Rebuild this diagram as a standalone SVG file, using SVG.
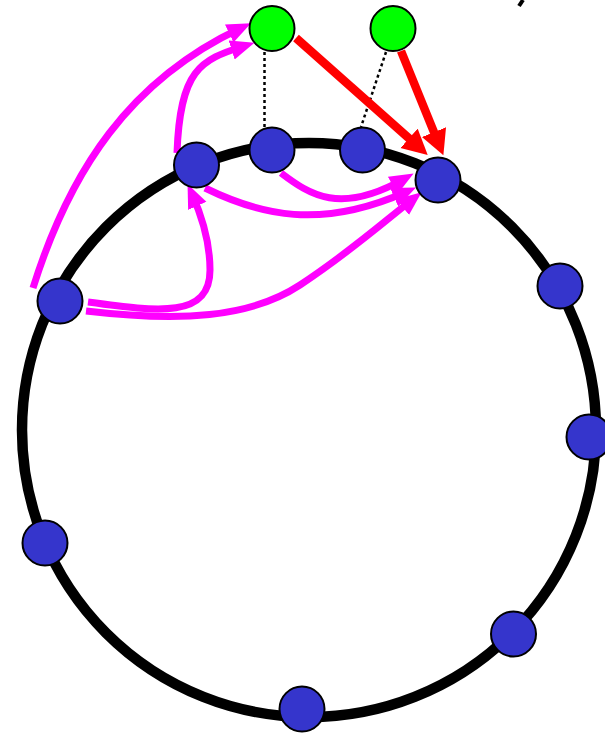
<svg xmlns="http://www.w3.org/2000/svg" width="605" height="734" viewBox="0 0 605 734">
<style>
.ring{fill:none;stroke:#000;stroke-width:10.5}
.peer{fill:#3535cc;stroke:#000;stroke-width:2}
.green{fill:#00ff00;stroke:#000;stroke-width:2}
.dot{stroke:#000;stroke-width:2.5;stroke-dasharray:3 3;fill:none}
.red{stroke:#ff0000;stroke-width:8.5;fill:none;marker-end:url(#ra)}
.mag{stroke:#ff00ff;stroke-width:7;fill:none;marker-end:url(#ma)}
</style>
<defs>
<marker id="ra" markerUnits="userSpaceOnUse" markerWidth="28" markerHeight="28" refX="16" refY="13" orient="auto">
<path d="M0,0 L25,13 L0,26 z" fill="#ff0000"/>
</marker>
<marker id="ma" markerUnits="userSpaceOnUse" markerWidth="26" markerHeight="22" refX="13" refY="10" orient="auto">
<path d="M0,0 L24,10 L0,20 z" fill="#ff00ff"/>
</marker>
</defs>
<g id="ring"><circle class="ring" cx="309" cy="430" r="287"/></g>
<g id="connectors">
<line class="dot" x1="264.5" y1="52" x2="264.5" y2="127"/>
<line class="dot" x1="386" y1="52" x2="361" y2="127"/>
<line class="red" x1="296" y1="38" x2="421" y2="149"/>
<line class="red" x1="401" y1="51" x2="440" y2="147"/>
<path class="mag" d="M33,288 C70,170 130,80 241,28"/>
<path class="mag" d="M177,153 C180,70 200,60 244,46"/>
<path class="mag" d="M88,302 C160,312 210,318 210,270 C210,240 200,212 192,194"/>
<path class="mag" d="M86,311 C180,322 250,318 300,285 S380,225 413,199"/>
<path class="mag" d="M205,188 C260,215 320,230 406,192"/>
<path class="mag" d="M281,173 C310,195 340,215 404,179"/>
</g>
<g id="n1"><circle class="peer" cx="196.5" cy="165" r="22.5"/></g>
<g id="n2"><circle class="peer" cx="272" cy="150" r="22.5"/></g>
<g id="n3"><circle class="peer" cx="362.5" cy="150" r="22.5"/></g>
<g id="n4"><circle class="peer" cx="438" cy="180" r="22.5"/></g>
<g id="n5"><circle class="peer" cx="60" cy="301" r="22.5"/></g>
<g id="n6"><circle class="peer" cx="560" cy="286" r="22.5"/></g>
<g id="n7"><circle class="peer" cx="589" cy="437" r="22.5"/></g>
<g id="n8"><circle class="peer" cx="45" cy="543" r="22.5"/></g>
<g id="n9"><circle class="peer" cx="513.5" cy="634" r="22.5"/></g>
<g id="n10"><circle class="peer" cx="302" cy="709" r="22.5"/></g>
<g id="g1"><circle class="green" cx="272" cy="28.5" r="22.5"/></g>
<g id="g2"><circle class="green" cx="393" cy="28.5" r="22.5"/></g>
<line x1="523" y1="0" x2="519" y2="6" stroke="#000" stroke-width="4"/>
</svg>
